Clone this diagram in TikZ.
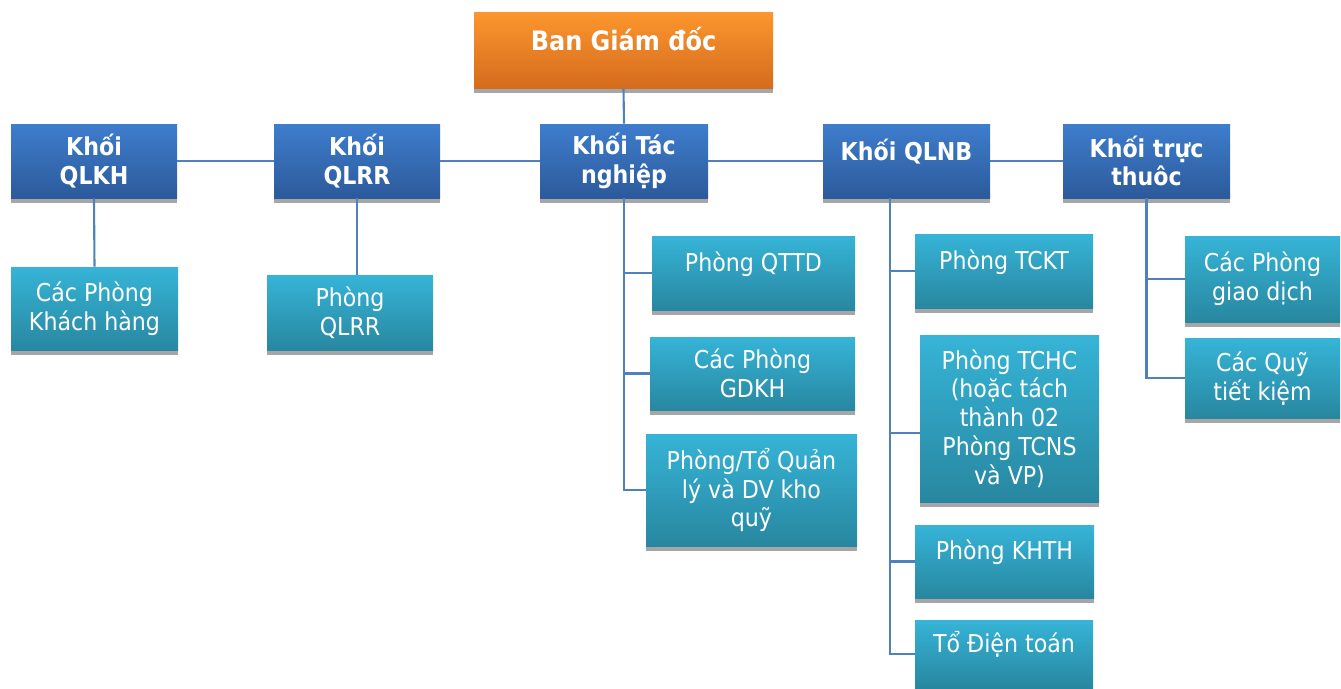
\documentclass[tikz,border=0pt]{standalone}
\usepackage{fontspec}
\setmainfont{DejaVu Sans Condensed}
\usetikzlibrary{shadows}
\definecolor{orangetop}{RGB}{252,150,45}
\definecolor{orangebot}{RGB}{212,108,30}
\definecolor{bluetop}{RGB}{62,125,205}
\definecolor{bluebot}{RGB}{44,90,155}
\definecolor{cyantop}{RGB}{54,180,215}
\definecolor{cyanbot}{RGB}{40,135,160}
\definecolor{linkblue}{RGB}{79,129,189}
\definecolor{shade}{RGB}{166,166,166}

\begin{document}
\begin{tikzpicture}[card/.style={rectangle, align=center, text=white, drop shadow={shadow xshift=0pt, shadow yshift=-0.1cm, fill=shade, opacity=1}},head/.style={card, top color=orangetop, bottom color=orangebot, font=\fontsize{15.2}{17}\selectfont\bfseries},khoi/.style={card, top color=bluetop, bottom color=bluebot, minimum height=1.48cm, font=\fontsize{14}{16.4}\selectfont\bfseries},phong/.style={card, top color=cyantop, bottom color=cyanbot, font=\fontsize{14}{16.4}\selectfont},link/.style={draw=linkblue, line width=1.2pt}]
\useasboundingbox (0,0) rectangle (26.82,-13.76);
\node[head, minimum width=5.98cm, minimum height=1.52cm] (bgd) at (12.47,-1.00) {Ban Giám đốc\\[-9pt]\strut};
% khoi
\node[khoi, minimum width=3.32cm] (qlkh) at (1.88,-3.22) {Khối\\QLKH};
\node[khoi, minimum width=3.32cm] (qlrr) at (7.14,-3.22) {Khối\\QLRR};
\node[khoi, minimum width=3.36cm] (tacnghiep) at (12.48,-3.22) {Khối Tác\\nghiệp};
\node[khoi, minimum width=3.34cm] (qlnb) at (18.13,-3.22) {Khối QLNB\\[-8pt]\strut};
\node[khoi, minimum width=3.34cm] (tructhuoc) at (22.93,-3.22) {Khối trực\\thuôc};
% phong
\node[phong, minimum width=3.34cm, minimum height=1.66cm] (khachhang) at (1.89,-6.17) {Các Phòng\\Khách hàng};
\node[phong, minimum width=3.32cm, minimum height=1.50cm] (pqlrr) at (7.00,-6.25) {Phòng\\QLRR};
\node[phong, minimum width=4.06cm, minimum height=1.48cm] (qttd) at (15.07,-5.46) {Phòng QTTD\\[-8pt]\strut};
\node[phong, minimum width=4.10cm, minimum height=1.46cm] (gdkh) at (15.05,-7.47) {Các Phòng\\GDKH};
\node[phong, minimum width=4.22cm, minimum height=2.24cm] (khoquy) at (15.03,-9.80) {Phòng/Tổ Quản\\lý và DV kho\\quỹ};
\node[phong, minimum width=3.56cm, minimum height=1.48cm] (tckt) at (20.08,-5.42) {Phòng TCKT\\[-8pt]\strut};
\node[phong, minimum width=3.58cm, minimum height=3.34cm] (tchc) at (20.19,-8.37) {Phòng TCHC\\(hoặc tách\\thành 02\\Phòng TCNS\\và VP)};
\node[phong, minimum width=3.58cm, minimum height=1.46cm] (khth) at (20.09,-11.23) {Phòng KHTH\\[-8pt]\strut};
\node[phong, minimum width=3.56cm, minimum height=1.36cm] (dientoan) at (20.08,-13.08) {Tổ Điện toán\\[-8pt]\strut};
\node[phong, minimum width=3.10cm, minimum height=1.72cm] (giaodich) at (25.25,-5.58) {Các Phòng\\giao dịch};
\node[phong, minimum width=3.10cm, minimum height=1.60cm] (quytk) at (25.25,-7.56) {Các Quỹ\\tiết kiệm};
% links
\draw[link] (bgd.south) -- (tacnghiep.north);
\draw[link] (qlkh.east) -- (qlrr.west);\draw[link] (qlrr.east) -- (tacnghiep.west);
\draw[link] (tacnghiep.east) -- (qlnb.west);\draw[link] (qlnb.east) -- (tructhuoc.west);
\draw[link] (qlkh.south) -- (khachhang.north);
\draw[link] (qlrr.south) -- (qlrr.south |- pqlrr.north);
\draw[link] (tacnghiep.south) |- (qttd.west);\draw[link] (tacnghiep.south) |- (gdkh.west);\draw[link] (tacnghiep.south) |- (khoquy.west);
\coordinate (nbtrunk) at ([xshift=1.34cm]qlnb.south west);
\draw[link] (nbtrunk) |- (tckt.west);\draw[link] (nbtrunk) |- ([yshift=-0.29cm]tchc.west);
\draw[link] (nbtrunk) |- (khth.west);\draw[link] (nbtrunk) |- (dientoan.west);
\draw[link] (tructhuoc.south) |- (giaodich.west);\draw[link] (tructhuoc.south) |- (quytk.west);
\end{tikzpicture}
\end{document}
